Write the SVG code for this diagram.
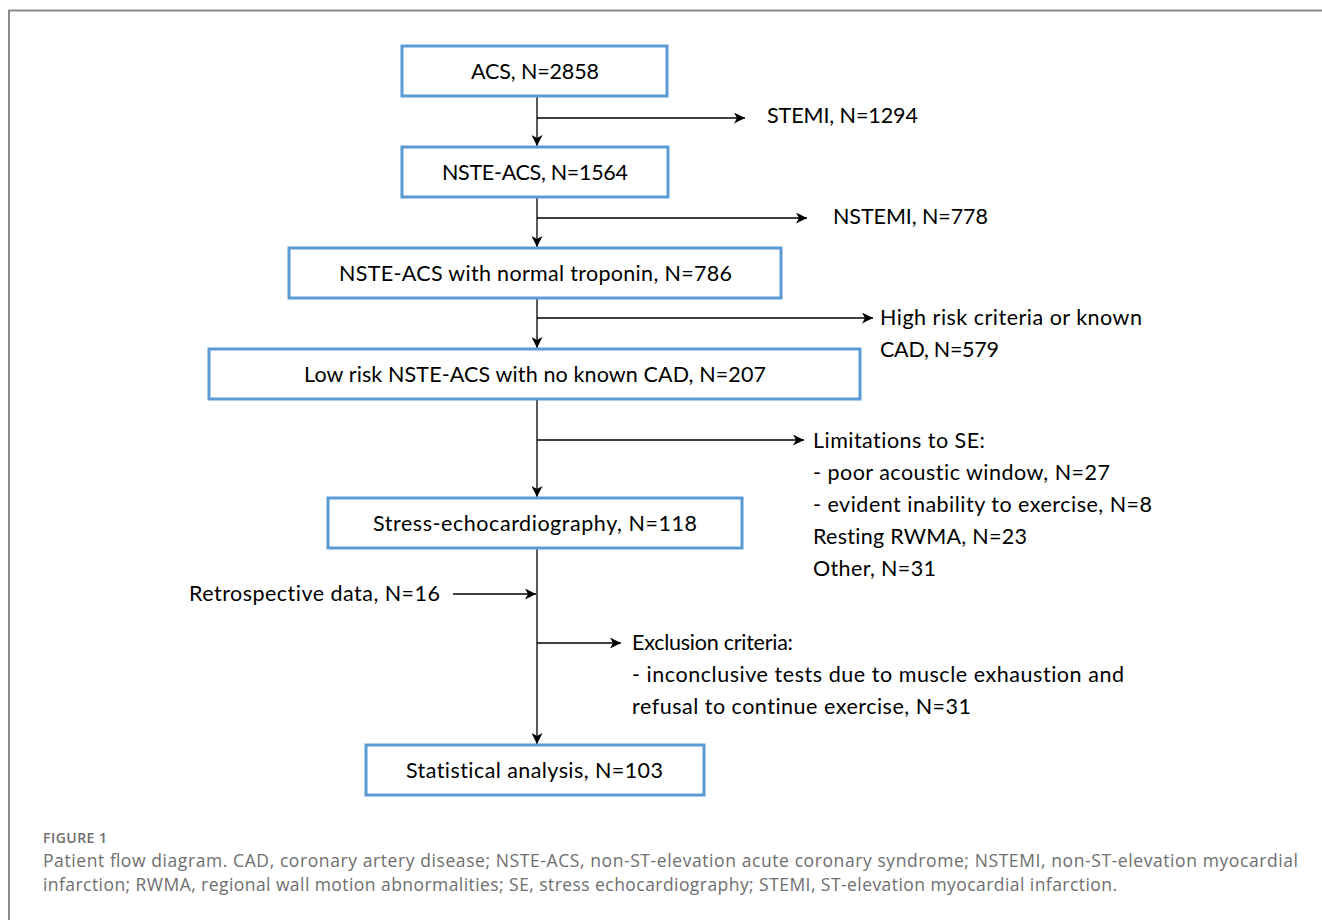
<svg xmlns="http://www.w3.org/2000/svg" width="1322" height="920" viewBox="0 0 1322 920">
<style>
.box{fill:#fff;stroke:#5B9BD5;stroke-width:3}
.t{font-family:Lato,"Open Sans",sans-serif;font-size:21.5px;fill:#000;font-variant-ligatures:none}
.ln{stroke:#000;stroke-width:1.3;fill:none}
.cap{font-family:"Open Sans","Noto Sans",sans-serif;font-size:17.5px;fill:#6e6e6e}
.fig{font-family:"Open Sans","Noto Sans",sans-serif;font-size:14px;fill:#6e6e6e;font-weight:600}
</style>
<defs>
<marker id="ah" viewBox="0 0 11 11" refX="11" refY="5.5" markerWidth="11" markerHeight="11" markerUnits="userSpaceOnUse" orient="auto">
<path d="M0,0 L11,5.5 L0,11 L3,5.5 z" fill="#000"/>
</marker>
</defs>
<rect width="1322" height="920" fill="#fff"/>
<path d="M9,920 V10.5 H1322" fill="none" stroke="#8a8a8a" stroke-width="2"/>
<g id="connectors">
<line class="ln" x1="537" y1="96" x2="537" y2="146" marker-end="url(#ah)"/>
<line class="ln" x1="537" y1="118" x2="745" y2="118" marker-end="url(#ah)"/>
<line class="ln" x1="537" y1="197" x2="537" y2="247" marker-end="url(#ah)"/>
<line class="ln" x1="537" y1="218" x2="807" y2="218" marker-end="url(#ah)"/>
<line class="ln" x1="537" y1="298" x2="537" y2="348" marker-end="url(#ah)"/>
<line class="ln" x1="537" y1="318" x2="873" y2="318" marker-end="url(#ah)"/>
<line class="ln" x1="537" y1="399" x2="537" y2="497" marker-end="url(#ah)"/>
<line class="ln" x1="537" y1="440" x2="804" y2="440" marker-end="url(#ah)"/>
<line class="ln" x1="537" y1="548" x2="537" y2="744" marker-end="url(#ah)"/>
<line class="ln" x1="453" y1="594" x2="536" y2="594" marker-end="url(#ah)"/>
<line class="ln" x1="537" y1="643" x2="621" y2="643" marker-end="url(#ah)"/>
</g>
<g id="acs"><rect class="box" x="402" y="46" width="265" height="50"/><text class="t" x="471" y="79" textLength="128" lengthAdjust="spacing">ACS, N=2858</text></g>
<g id="nste"><rect class="box" x="402" y="147" width="266" height="50"/><text class="t" x="442" y="180" textLength="186" lengthAdjust="spacing">NSTE-ACS, N=1564</text></g>
<g id="normtrop"><rect class="box" x="289" y="248" width="492" height="50"/><text class="t" x="339" y="281" textLength="393" lengthAdjust="spacing">NSTE-ACS with normal troponin, N=786</text></g>
<g id="lowrisk"><rect class="box" x="209" y="349" width="651" height="50"/><text class="t" x="304" y="382" textLength="462" lengthAdjust="spacing">Low risk NSTE-ACS with no known CAD, N=207</text></g>
<g id="se"><rect class="box" x="328" y="498" width="414" height="50"/><text class="t" x="373" y="531" textLength="324" lengthAdjust="spacing">Stress-echocardiography, N=118</text></g>
<g id="stat"><rect class="box" x="366" y="745" width="338" height="50"/><text class="t" x="406" y="778" textLength="257" lengthAdjust="spacing">Statistical analysis, N=103</text></g>
<g id="stemi"><text class="t" x="767" y="123" textLength="151" lengthAdjust="spacing">STEMI, N=1294</text></g>
<g id="nstemi"><text class="t" x="833" y="224" textLength="155" lengthAdjust="spacing">NSTEMI, N=778</text></g>
<g id="highrisk"><text class="t" x="880" y="325" textLength="262" lengthAdjust="spacing">High risk criteria or known</text><text class="t" x="880" y="357" textLength="119" lengthAdjust="spacing">CAD, N=579</text></g>
<g id="limits">
<text class="t" x="813" y="448" textLength="172" lengthAdjust="spacing">Limitations to SE:</text>
<text class="t" x="813" y="480" textLength="297" lengthAdjust="spacing">- poor acoustic window, N=27</text>
<text class="t" x="813" y="512" textLength="339" lengthAdjust="spacing">- evident inability to exercise, N=8</text>
<text class="t" x="813" y="544" textLength="214" lengthAdjust="spacing">Resting RWMA, N=23</text>
<text class="t" x="813" y="576" textLength="123" lengthAdjust="spacing">Other, N=31</text>
</g>
<g id="retro"><text class="t" x="189" y="601" textLength="251" lengthAdjust="spacing">Retrospective data, N=16</text></g>
<g id="excl">
<text class="t" x="632" y="650" textLength="161" lengthAdjust="spacing">Exclusion criteria:</text>
<text class="t" x="632" y="682" textLength="492" lengthAdjust="spacing">- inconclusive tests due to muscle exhaustion and</text>
<text class="t" x="632" y="714" textLength="339" lengthAdjust="spacing">refusal to continue exercise, N=31</text>
</g>
<text class="fig" x="43" y="843" textLength="64" lengthAdjust="spacing">FIGURE 1</text>
<text class="cap" x="43" y="867" textLength="1255" lengthAdjust="spacing">Patient flow diagram. CAD, coronary artery disease; NSTE-ACS, non-ST-elevation acute coronary syndrome; NSTEMI, non-ST-elevation myocardial</text>
<text class="cap" x="43" y="891" textLength="1074" lengthAdjust="spacing">infarction; RWMA, regional wall motion abnormalities; SE, stress echocardiography; STEMI, ST-elevation myocardial infarction.</text>
</svg>
